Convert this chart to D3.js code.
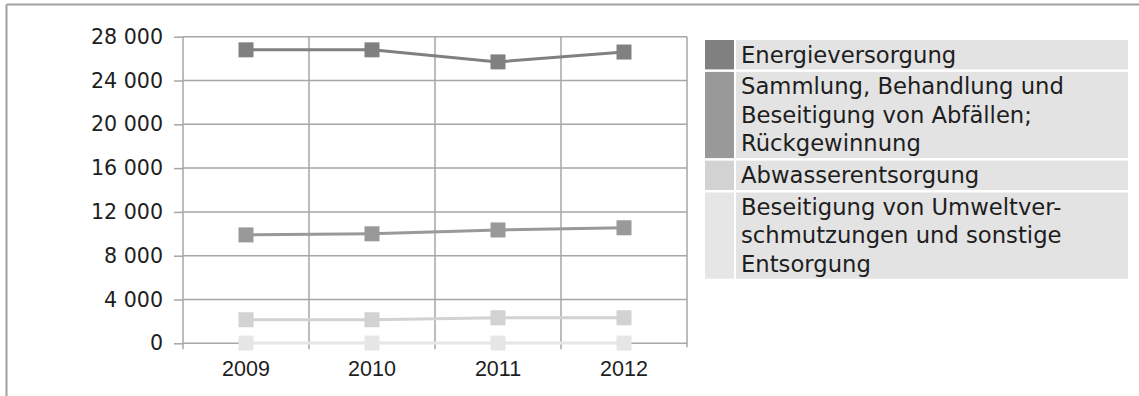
<!DOCTYPE html>
<html>
<head>
<meta charset="utf-8">
<script src="https://cdn.jsdelivr.net/npm/d3@7"></script>
<style>
  html, body { margin: 0; padding: 0; background: #fff; }
  svg { display: block; }
</style>
</head>
<body>
<svg id="chart" width="1139" height="396"></svg>
<script>
// ---- data ----
const years = ["2009", "2010", "2011", "2012"];
const seriesNames = [
  "Energieversorgung",
  "Sammlung, Behandlung und Beseitigung von Abfällen; Rückgewinnung",
  "Abwasserentsorgung",
  "Beseitigung von Umweltverschmutzungen und sonstige Entsorgung"
];
const legendLines = [
  ["Energieversorgung"],
  ["Sammlung, Behandlung und", "Beseitigung von Abfällen;", "Rückgewinnung"],
  ["Abwasserentsorgung"],
  ["Beseitigung von Umweltver-", "schmutzungen und sonstige", "Entsorgung"]
];
const energie   = [26800, 26800, 25700, 26600];
const abfaelle  = [9900, 10000, 10350, 10550];
const abwasser  = [2150, 2150, 2330, 2330];
const sonstige  = [20, 20, 20, 20];
const seriesValues = [energie, abfaelle, abwasser, sonstige];
const yTicks = [0, 4000, 8000, 12000, 16000, 20000, 24000, 28000];
const seriesColors = ["#808080", "#999999", "#d2d2d2", "#e6e6e6"];

// ---- layout ----
const svg = d3.select("#chart");
const plot = { left: 183, right: 687, top: 36.7, bottom: 343.3 };
const gridColor = "#a6a6a6";

const x = d3.scaleBand().domain(years).range([plot.left, plot.right]).padding(0);
const y = d3.scaleLinear().domain([0, 28000]).range([plot.bottom, plot.top]);

const loc = d3.formatLocale({ decimal: ",", thousands: " ", grouping: [3], currency: ["", "€"] });
const fmt = loc.format(",d");

// outer frame (top and left)
svg.append("line").attr("x1", 6.5).attr("x2", 1139).attr("y1", 4.5).attr("y2", 4.5)
  .attr("stroke", "#a0a0a0").attr("stroke-width", 2);
svg.append("line").attr("x1", 6.5).attr("x2", 6.5).attr("y1", 4.5).attr("y2", 396)
  .attr("stroke", "#a0a0a0").attr("stroke-width", 2);

// horizontal gridlines
svg.append("g").selectAll("line").data(yTicks.filter(d => d > 0)).join("line")
  .attr("x1", plot.left).attr("x2", plot.right)
  .attr("y1", d => y(d)).attr("y2", d => y(d))
  .attr("stroke", gridColor).attr("stroke-width", 1.5);

// vertical gridlines (band boundaries)
const bounds = years.map(d => x(d)).concat([plot.right]);
svg.append("g").selectAll("line").data(bounds.slice(1)).join("line")
  .attr("x1", d => d).attr("x2", d => d)
  .attr("y1", plot.top).attr("y2", (d, i) => i === bounds.length - 2 ? plot.bottom + 4 : plot.bottom + 6)
  .attr("stroke", gridColor).attr("stroke-width", 1.5);

// y axis
const yAxis = svg.append("g").attr("transform", `translate(${plot.left},0)`)
  .call(d3.axisLeft(y).tickValues(yTicks).tickFormat(fmt).tickSize(9).tickPadding(11));
yAxis.select(".domain").remove();
yAxis.append("line").attr("x1", 0).attr("x2", 0).attr("y1", plot.top).attr("y2", plot.bottom + 6)
  .attr("stroke", gridColor).attr("stroke-width", 1.5);
yAxis.selectAll(".tick line").attr("stroke", gridColor).attr("stroke-width", 1.5);
yAxis.selectAll("text").attr("font-family", "'DejaVu Sans', Verdana, sans-serif")
  .attr("font-size", 20.6).attr("fill", "#1e1e1e");

// x axis
const xAxis = svg.append("g").attr("transform", `translate(0,${plot.bottom})`)
  .call(d3.axisBottom(x).tickSize(0).tickPadding(17));
xAxis.select(".domain").attr("stroke", gridColor).attr("stroke-width", 1.5)
  .attr("d", `M${plot.left},0H${plot.right}`);
xAxis.selectAll("text").attr("font-family", "'Liberation Sans', Arial, sans-serif")
  .attr("font-size", 21.5).attr("fill", "#1e1e1e");

// lines and markers
const line = d3.line().x((d, i) => x(years[i]) + x.bandwidth() / 2).y(d => y(d));
const g = svg.append("g");
seriesValues.forEach((vals, si) => {
  g.append("path").datum(vals).attr("d", line)
    .attr("fill", "none").attr("stroke", seriesColors[si]).attr("stroke-width", 3);
});
seriesValues.forEach((vals, si) => {
  g.append("g").selectAll("rect").data(vals).join("rect")
    .attr("x", (d, i) => x(years[i]) + x.bandwidth() / 2 - 7.5)
    .attr("y", d => y(d) - 7.5)
    .attr("width", 15).attr("height", 15)
    .attr("fill", seriesColors[si]);
});

// legend
const lg = { top: 40, swX: 705, swW: 29, txX: 736, txR: 1128, lineH: 28.4, pad: 1, gap: 2.5 };
let cy = lg.top;
const legend = svg.append("g");
legendLines.forEach((lines, i) => {
  const h = lines.length * lg.lineH + lg.pad;
  legend.append("rect").attr("x", lg.swX).attr("y", cy).attr("width", lg.swW).attr("height", h)
    .attr("fill", seriesColors[i]);
  legend.append("rect").attr("x", lg.txX).attr("y", cy).attr("width", lg.txR - lg.txX).attr("height", h)
    .attr("fill", "#e3e3e3");
  lines.forEach((t, j) => {
    legend.append("text").attr("x", 741).attr("y", cy + 22.5 + j * lg.lineH)
      .attr("font-family", "'DejaVu Sans', Verdana, sans-serif").attr("font-size", 22.7)
      .attr("fill", "#1e1e1e").text(t);
  });
  cy += h + lg.gap;
});
</script>
</body>
</html>
